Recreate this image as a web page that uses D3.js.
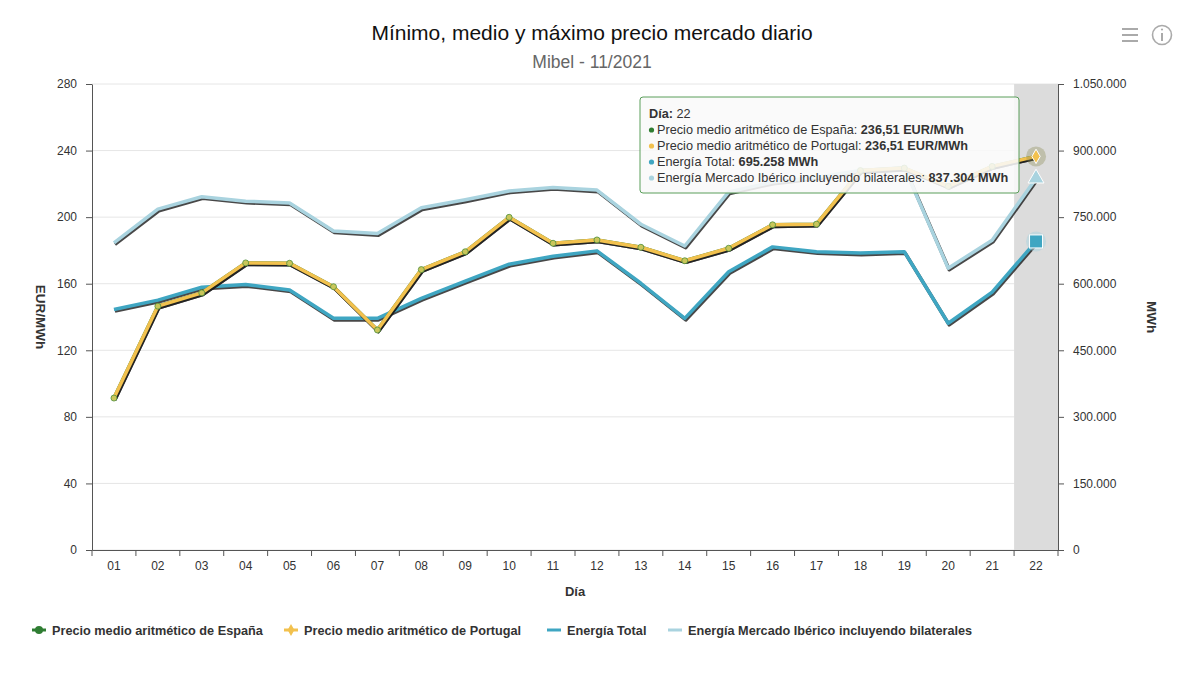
<!DOCTYPE html>
<html>
<head>
<meta charset="utf-8">
<script src="https://cdn.jsdelivr.net/npm/d3@7/dist/d3.min.js"></script>
<style>
  body { margin: 0; background: #fff; }
  svg { font-family: "Liberation Sans", Arial, Helvetica, sans-serif; }
</style>
</head>
<body>
<div id="chart"></div>
<script>
// days of november 2021
const days = ['01','02','03','04','05','06','07','08','09','10','11','12','13','14','15','16','17','18','19','20','21','22'];

// EUR/MWh
const precioEspana = [91.3, 146.5, 154.5, 172.5, 172.3, 158.2, 132.2, 168.5, 179.2, 199.9, 184.3, 186.3, 181.9, 173.8, 181.3, 195.4, 195.8, 228.0, 229.5, 218.5, 230.5, 236.51];
const precioPortugal = [91.3, 146.5, 154.5, 172.5, 172.3, 158.2, 132.2, 168.5, 179.2, 199.9, 184.3, 186.3, 181.9, 173.8, 181.3, 195.4, 195.8, 228.0, 229.5, 218.5, 230.5, 236.51];

// MWh
const energiaTotal = [542000, 563000, 592000, 598000, 586000, 522000, 522000, 567000, 606000, 644000, 662000, 674000, 601000, 522000, 627000, 683000, 672000, 669000, 672000, 511000, 581000, 695258];
const energiaMercado = [692000, 768000, 796000, 786000, 782000, 719000, 713000, 771000, 789000, 809000, 817000, 811000, 734000, 685000, 807000, 829000, 840000, 855000, 862000, 635000, 698000, 837304];

const leftTicks = [0, 40, 80, 120, 160, 200, 240, 280];
const rightTicks = [0, 150000, 300000, 450000, 600000, 750000, 900000, 1050000];

const seriesNames = ['Precio medio aritmético de España', 'Precio medio aritmético de Portugal', 'Energía Total', 'Energía Mercado Ibérico incluyendo bilaterales'];
const colors = ['#2f7d32', '#f2c14e', '#3fa6c2', '#a9d3df'];
const hoverIndex = 21;

const [svgWidth, svgHeight] = [1200, 674];
const margin = { left: 92, right: 142, top: 84, bottom: 124 };
const [width, height] = [svgWidth - margin.left - margin.right, svgHeight - margin.top - margin.bottom];

const loc = d3.formatLocale({ decimal: ',', thousands: '.', grouping: [3], currency: ['', ''] });
const fmtInt = loc.format(',d');
const fmtDec = loc.format(',.2f');

function translate(x, y) {
    return 'translate(' + x + ',' + y + ')';
}

const svg = d3.select('#chart').append('svg')
    .attr('width', svgWidth)
    .attr('height', svgHeight);

// title
svg.append('text')
    .attr('x', 592).attr('y', 40)
    .attr('text-anchor', 'middle')
    .attr('font-size', 21).attr('fill', '#111')
    .text('Mínimo, medio y máximo precio mercado diario');
svg.append('text')
    .attr('x', 592).attr('y', 68)
    .attr('text-anchor', 'middle')
    .attr('font-size', 17.5).attr('fill', '#666')
    .text('Mibel - 11/2021');

// menu + info icons
const icons = svg.append('g').attr('stroke', '#aaa').attr('fill', 'none');
[29, 35, 41].forEach(y => icons.append('line').attr('x1', 1122).attr('x2', 1138).attr('y1', y).attr('y2', y).attr('stroke-width', 2));
icons.append('circle').attr('cx', 1162).attr('cy', 35).attr('r', 9.5).attr('stroke-width', 1.6);
icons.append('line').attr('x1', 1162).attr('x2', 1162).attr('y1', 33).attr('y2', 41).attr('stroke-width', 2);
icons.append('circle').attr('cx', 1162).attr('cy', 29.5).attr('r', 1.1).attr('fill', '#aaa').attr('stroke', 'none');

const x = d3.scaleBand().domain(days).range([0, width]);
const yLeft = d3.scaleLinear().domain([0, 280]).range([height, 0]);
const yRight = d3.scaleLinear().domain([0, 1050000]).range([height, 0]);
const cx = d => x(d) + x.bandwidth() / 2;

const chart = svg.append('g').attr('transform', translate(margin.left, margin.top));

// grid
chart.append('g').selectAll('line').data(leftTicks).join('line')
    .attr('x1', 0).attr('x2', width)
    .attr('y1', d => yLeft(d)).attr('y2', d => yLeft(d))
    .attr('stroke', '#e6e6e6');

// hovered band
chart.append('rect')
    .attr('x', x(days[hoverIndex])).attr('y', 0)
    .attr('width', x.bandwidth()).attr('height', height)
    .attr('fill', '#dcdcdc');

// axes
const xAxis = chart.append('g').attr('transform', translate(0, height))
    .call(d3.axisBottom(x).tickSize(0).tickPadding(11));
xAxis.selectAll('.tick').append('line')
    .attr('x1', -x.bandwidth() / 2).attr('x2', -x.bandwidth() / 2)
    .attr('y1', 0).attr('y2', 6).attr('stroke', '#555');
xAxis.append('line').attr('x1', width).attr('x2', width).attr('y1', 0).attr('y2', 6).attr('stroke', '#555');

const yAxisL = chart.append('g')
    .call(d3.axisLeft(yLeft).tickValues(leftTicks).tickSize(6).tickPadding(9).tickSizeOuter(0));
const yAxisR = chart.append('g').attr('transform', translate(width, 0))
    .call(d3.axisRight(yRight).tickValues(rightTicks).tickSize(6).tickPadding(9).tickSizeOuter(0).tickFormat(fmtInt));

[xAxis, yAxisL, yAxisR].forEach(a => {
    a.select('.domain').attr('stroke', '#555');
    a.selectAll('.tick line').attr('stroke', '#555');
    a.selectAll('.tick text').attr('font-size', 12).attr('fill', '#333')
        .attr('font-family', '"Liberation Sans", Arial, sans-serif');
});

// axis titles
chart.append('text')
    .attr('transform', translate(-56, height / 2) + ' rotate(90)')
    .attr('text-anchor', 'middle').attr('font-size', 13.5).attr('font-weight', 'bold').attr('fill', '#333')
    .text('EUR/MWh');
chart.append('text')
    .attr('transform', translate(width + 89, height / 2) + ' rotate(90)')
    .attr('text-anchor', 'middle').attr('font-size', 13.5).attr('font-weight', 'bold').attr('fill', '#333')
    .text('MWh');
chart.append('text')
    .attr('x', width / 2).attr('y', height + 46)
    .attr('text-anchor', 'middle').attr('font-size', 13).attr('font-weight', 'bold').attr('fill', '#333')
    .text('Día');

// lines
const lineL = d3.line().x((d, i) => cx(days[i])).y(d => yLeft(d));
const lineR = d3.line().x((d, i) => cx(days[i])).y(d => yRight(d));

function drawSeries(values, line, color) {
    chart.append('path').datum(values)
        .attr('d', line)
        .attr('transform', translate(1, 1.6))
        .attr('fill', 'none').attr('stroke', '#1a1a1a').attr('stroke-opacity', 0.8)
        .attr('stroke-width', 3.5).attr('stroke-linejoin', 'round');
    chart.append('path').datum(values)
        .attr('d', line)
        .attr('fill', 'none').attr('stroke', color)
        .attr('stroke-width', 3.5).attr('stroke-linejoin', 'round');
}

drawSeries(energiaMercado, lineR, colors[3]);
drawSeries(energiaTotal, lineR, colors[2]);
drawSeries(precioEspana, lineL, colors[0]);
drawSeries(precioPortugal, lineL, colors[1]);

// point markers on the price line
chart.append('g').selectAll('circle').data(precioEspana.slice(0, hoverIndex)).join('circle')
    .attr('cx', (d, i) => cx(days[i])).attr('cy', d => yLeft(d))
    .attr('r', 3).attr('fill', '#c9c65a').attr('stroke', '#4f8f3c').attr('stroke-width', 0.8);

// hover markers
const hx = cx(days[hoverIndex]);
chart.append('circle').attr('cx', hx).attr('cy', yLeft(precioEspana[hoverIndex])).attr('r', 10)
    .attr('fill', '#8a8a50').attr('fill-opacity', 0.35);
chart.append('circle').attr('cx', hx).attr('cy', yRight(energiaTotal[hoverIndex])).attr('r', 10)
    .attr('fill', colors[3]).attr('fill-opacity', 0.5);
chart.append('path')
    .attr('d', d3.symbol(d3.symbolDiamond, 60)())
    .attr('transform', translate(hx, yLeft(precioPortugal[hoverIndex])))
    .attr('fill', colors[1]).attr('stroke', '#fff').attr('stroke-width', 1);
chart.append('path')
    .attr('d', d3.symbol(d3.symbolTriangle, 110)())
    .attr('transform', translate(hx, yRight(energiaMercado[hoverIndex])))
    .attr('fill', colors[3]).attr('stroke', '#fff').attr('stroke-width', 1);
chart.append('rect')
    .attr('x', hx - 6.5).attr('y', yRight(energiaTotal[hoverIndex]) - 6.5)
    .attr('width', 13).attr('height', 13)
    .attr('fill', colors[2]).attr('stroke', '#fff').attr('stroke-width', 1);

// tooltip
const tip = svg.append('g').attr('transform', translate(640, 97));
tip.append('rect')
    .attr('width', 379).attr('height', 96).attr('rx', 3)
    .attr('fill', '#f9f9f9').attr('fill-opacity', 0.88)
    .attr('stroke', '#5a9e5a').attr('stroke-width', 1);
const tipRows = [
    { color: colors[0], label: seriesNames[0] + ': ', value: fmtDec(precioEspana[hoverIndex]) + ' EUR/MWh' },
    { color: colors[1], label: seriesNames[1] + ': ', value: fmtDec(precioPortugal[hoverIndex]) + ' EUR/MWh' },
    { color: colors[2], label: seriesNames[2] + ': ', value: fmtInt(energiaTotal[hoverIndex]) + ' MWh' },
    { color: colors[3], label: seriesNames[3] + ': ', value: fmtInt(energiaMercado[hoverIndex]) + ' MWh' }
];
const head = tip.append('text').attr('x', 9).attr('y', 21).attr('font-size', 12.7).attr('fill', '#333');
head.append('tspan').attr('font-weight', 'bold').text('Día:');
head.append('tspan').text(' ' + days[hoverIndex]);
tipRows.forEach((r, i) => {
    const yy = 37 + i * 16;
    tip.append('circle').attr('cx', 11.5).attr('cy', yy - 4).attr('r', 2.6).attr('fill', r.color);
    const t = tip.append('text').attr('x', 17).attr('y', yy).attr('font-size', 12.7).attr('fill', '#333');
    t.append('tspan').text(r.label);
    t.append('tspan').attr('font-weight', 'bold').text(r.value);
});

// legend
const legendX = [32, 284, 547, 668];
const legend = svg.append('g').attr('transform', translate(0, 630));
seriesNames.forEach((name, i) => {
    const g = legend.append('g').attr('transform', translate(legendX[i], 0));
    g.append('line').attr('x1', 0).attr('x2', 14).attr('y1', 0).attr('y2', 0)
        .attr('stroke', colors[i]).attr('stroke-width', 3);
    if (i === 0) g.append('circle').attr('cx', 7).attr('cy', 0).attr('r', 4).attr('fill', colors[i]);
    if (i === 1) g.append('path').attr('d', d3.symbol(d3.symbolDiamond, 40)()).attr('transform', translate(7, 0)).attr('fill', colors[i]);
    g.append('text').attr('x', 20).attr('y', 4.5)
        .attr('font-size', 12.7).attr('font-weight', 'bold').attr('fill', '#333')
        .text(name);
});
</script>
</body>
</html>
